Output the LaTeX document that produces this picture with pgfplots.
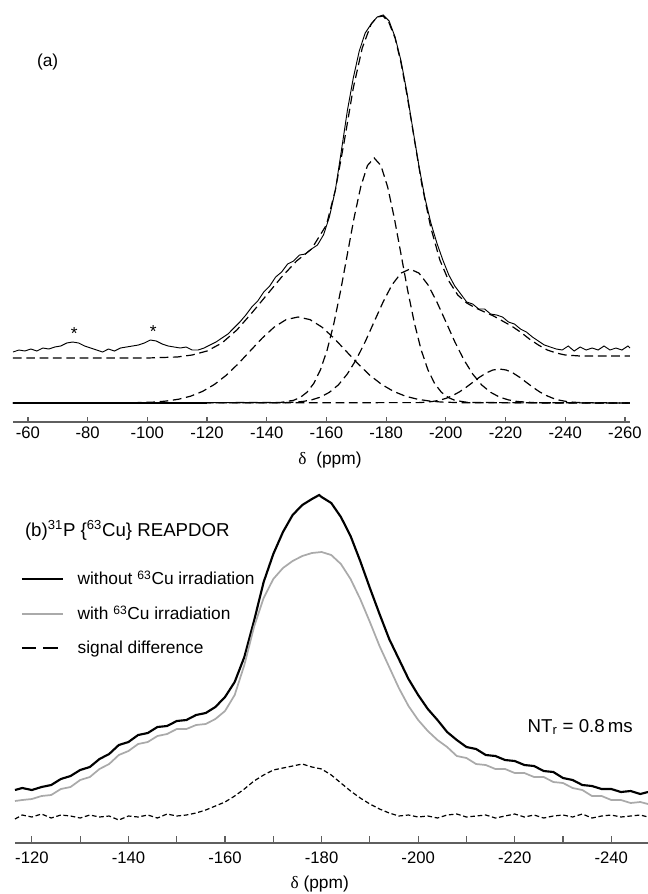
\documentclass[border=0pt]{standalone}
\usepackage{fontspec}
\setmainfont{Liberation Sans}
\newfontfamily\greekserif{Liberation Serif}
\usepackage{pgfplots}
\pgfplotsset{compat=1.18}

\definecolor{axisgray}{RGB}{95,95,95}
\definecolor{lightcurve}{RGB}{170,170,170}

\pgfplotsset{
  nmrframe/.style={
    scale only axis, clip=false,
    x dir=reverse,
    axis x line*=bottom, axis y line=none,
    axis line style={axisgray, line width=1.1pt},
    tick style={axisgray, line width=0.9pt},
    tick align=inside,
    /pgf/number format/assume math mode=true,
    ticklabel style={font=\fontsize{12.5}{14}\selectfont},
  },
}

\begin{document}
\begin{tikzpicture}
\useasboundingbox (0,0) rectangle (486pt,-670.5pt);

% ---------- (a) ----------
\begin{axis}[nmrframe,
  at={(9.75pt,-316.5pt)}, anchor=south west,
  width=462.75pt, height=316.5pt,
  xmin=-261.7, xmax=-55, ymin=-19, ymax=403,
  xtick={-260,-240,...,-60},
  major tick length=3.75pt,
]
% experimental spectrum
\addplot[black, line width=0.7pt] coordinates {
(-55,51) (-57,53) (-59,52) (-61,54) (-63,52) (-65,55) (-67,54) (-69,56) (-71,57) (-73,60)
(-75,61) (-77,60) (-79,57) (-81,55) (-83,53) (-85,51) (-87,54) (-89,52) (-91,55) (-93,56)
(-95,57) (-97,58) (-99,60) (-101,63) (-103,62) (-105,59) (-107,57) (-109,56) (-111,55) (-113,56)
(-115,53) (-117,53) (-119,55) (-121,58) (-123,61) (-125,65) (-127,69) (-129,75) (-131,81) (-133,88)
(-135,96) (-137,102) (-139,111) (-141,117) (-143,126) (-145,131) (-147,139) (-149,142) (-151,148) (-153,149)
(-155,154) (-157,158) (-159,168) (-161,186) (-163,213) (-165,252) (-167,292) (-169,325) (-171,352) (-173,370)
(-175,379) (-177,386) (-179,388) (-181,382) (-183,366) (-185,342) (-187,310) (-189,273) (-191,237) (-193,205)
(-195,180) (-197,160) (-199,143) (-201,128) (-203,117) (-205,109) (-207,101) (-209,99) (-211,94) (-213,94)
(-215,89) (-217,88) (-219,86) (-221,81) (-223,79) (-225,74) (-227,71) (-229,66) (-231,62) (-233,58)
(-235,56) (-237,54) (-239,53) (-241,57) (-243,52) (-245,56) (-247,53) (-249,55) (-251,53) (-253,57)
(-255,53) (-257,55) (-259,53) (-261,57) (-261.7,55)
};
% total fit
\addplot[black, line width=0.9pt, dash pattern=on 6.5pt off 3.5pt] coordinates {
(-55,45) (-100,45) (-110,46) (-115,48) (-120,52) (-125,60) (-130,73) (-135,90) (-140,108) (-145,126)
(-150,142) (-155,154) (-160,178) (-163,213) (-166,262) (-169,315) (-172,355) (-175,379) (-177,386) (-179,387)
(-181,380) (-183,365) (-185,340) (-187,308) (-189,272) (-192,218) (-195,175) (-198,143) (-201,122) (-204,108)
(-207,100) (-210,95) (-213,91) (-216,87) (-219,82) (-222,77) (-225,71) (-228,64) (-231,58) (-234,53)
(-237,50) (-240,48) (-245,47) (-261.7,47)
};
% baseline of the components
\addplot[black, line width=0.9pt] coordinates {(-55,0) (-120,0)};
% component 1
\addplot[black, line width=0.9pt, dash pattern=on 6.5pt off 3.5pt] coordinates {
(-55,0) (-94.5,0.2) (-102.5,0.95) (-106.5,2.0) (-110.5,3.8) (-114.5,6.8) (-118.5,11.6) (-122.5,18.6)
(-126.5,27.9) (-130.5,39.4) (-134.5,52.2) (-138.5,64.9) (-142.5,75.9) (-146.5,83.4) (-150.5,86)
(-154.5,83.4) (-158.5,75.9) (-162.5,64.9) (-166.5,52.2) (-170.5,39.4) (-174.5,27.9) (-178.5,18.6)
(-182.5,11.6) (-186.5,6.8) (-190.5,3.8) (-194.5,2.0) (-198.5,0.95) (-206.5,0.2) (-261.7,0)
};
% component 2
\addplot[black, line width=0.9pt, dash pattern=on 6.5pt off 3.5pt, dash phase=3pt] coordinates {
(-55,0) (-144.5,0.5) (-149,2.7) (-151.25,5.6) (-153.5,10.8) (-155.75,19.5) (-158,33.2) (-160.25,53.0)
(-162.5,79.6) (-164.75,112.2) (-167,148.6) (-169.25,184.9) (-171.5,216.2) (-173.75,237.5) (-176,245)
(-178.25,237.5) (-180.5,216.2) (-182.75,184.9) (-185,148.6) (-187.25,112.2) (-189.5,79.6) (-191.75,53.0)
(-194,33.2) (-196.25,19.5) (-198.5,10.8) (-200.75,5.6) (-203,2.7) (-207.5,0.5) (-261.7,0)
};
% component 3
\addplot[black, line width=0.9pt, dash pattern=on 6.5pt off 3.5pt, dash phase=6pt] coordinates {
(-55,0) (-146,0.3) (-152,1.5) (-155,3.1) (-158,5.9) (-161,10.7) (-164,18.1) (-167,29.0)
(-170,43.5) (-173,61.3) (-176,81.3) (-179,101.1) (-182,118.3) (-185,129.9) (-188,134)
(-191,129.9) (-194,118.3) (-197,101.1) (-200,81.3) (-203,61.3) (-206,43.5) (-209,29.0)
(-212,18.1) (-215,10.7) (-218,5.9) (-221,3.1) (-224,1.5) (-230,0.3) (-261.7,0)
};
% component 4
\addplot[black, line width=0.9pt, dash pattern=on 6.5pt off 3.5pt, dash phase=8pt] coordinates {
(-55,0) (-191,0.4) (-193.25,0.8) (-195.5,1.5) (-197.75,2.7) (-200,4.6) (-202.25,7.4) (-204.5,11.0)
(-206.75,15.6) (-209,20.6) (-211.25,25.7) (-213.5,30.0) (-215.75,33.0) (-218,34)
(-220.25,33.0) (-222.5,30.0) (-224.75,25.7) (-227,20.6) (-229.25,15.6) (-231.5,11.0) (-233.75,7.4)
(-236,4.6) (-238.25,2.7) (-240.5,1.5) (-242.75,0.8) (-245,0.4) (-261.7,0)
};
\node[font=\fontsize{13}{15}\selectfont] at (axis cs:-66.6,341) {(a)};
\node[font=\fontsize{13}{15}\selectfont] at (axis cs:-75.5,69) {*};
\node[font=\fontsize{13}{15}\selectfont] at (axis cs:-102,71) {*};
\node[font=\fontsize{13}{15}\selectfont] at (axis cs:-161.2,-57) {{\greekserif δ}\ \ (ppm)};
\end{axis}

% ---------- (b) ----------
\begin{axis}[nmrframe,
  at={(11.25pt,-632.25pt)}, anchor=south west,
  width=474.75pt, height=279.75pt,
  xmin=-247.6, xmax=-116.5, ymin=-26, ymax=347,
  xtick={-240,-220,...,-120},
  minor xtick={-230,-210,...,-130},
  major tick length=5pt, minor tick length=5pt,
  xticklabel style={yshift=-3pt},
  legend style={at={(axis cs:-117.6,252)}, anchor=north west, draw=none, fill=none,
    font=\fontsize{13}{15}\selectfont, row sep=10pt, inner xsep=0pt},
  legend cell align=left,
  legend image code/.code={\draw[#1] (0pt,0pt) -- (31pt,0pt);},
]
\addplot[black, line width=1.6pt, forget plot] coordinates {
(-116.5,27) (-118,29) (-120,27) (-122,30) (-124,32) (-126,38) (-128,41) (-130,47) (-132,50) (-134,58)
(-136,63) (-138,72) (-140,75) (-142,82) (-144,84) (-146,90) (-148,91) (-150,96) (-152,97) (-154,102)
(-156,104) (-158,110) (-160,120) (-162,135) (-164,160) (-166,196) (-168,235) (-170,263) (-172,285) (-174,302)
(-176,312) (-178,318) (-179.5,322) (-180,320) (-182,314) (-184,300) (-186,281) (-188,256) (-190,229) (-192,203)
(-194,178) (-196,158) (-198,138) (-200,122) (-202,108) (-204,97) (-206,85) (-208,77) (-210,70) (-212,68)
(-214,62) (-216,61) (-218,57) (-220,56) (-222,52) (-224,51) (-226,46) (-228,45) (-230,39) (-232,37)
(-234,32) (-236,31) (-238,28) (-240,28) (-242,25) (-244,26) (-246,23) (-247.6,25)
};
\addplot[lightcurve, line width=1.3pt, forget plot] coordinates {
(-116.5,16) (-118,17) (-120,18) (-122,21) (-124,22) (-126,28) (-128,30) (-130,37) (-132,40) (-134,48)
(-136,53) (-138,62) (-140,66) (-142,73) (-144,75) (-146,81) (-148,83) (-150,88) (-152,88) (-154,92)
(-156,93) (-158,98) (-160,106) (-162,122) (-164,152) (-166,190) (-168,219) (-170,238) (-172,249) (-174,256)
(-176,261) (-178,264) (-180,265) (-182,262) (-184,253) (-186,238) (-188,218) (-190,195) (-192,171) (-194,150)
(-196,129) (-198,111) (-200,97) (-202,86) (-204,77) (-206,70) (-208,61) (-210,59) (-212,53) (-214,52)
(-216,48) (-218,48) (-220,44) (-222,44) (-224,40) (-226,40) (-228,35) (-230,34) (-232,29) (-234,27)
(-236,21) (-238,21) (-240,17) (-242,17) (-244,14) (-246,15) (-247.6,13)
};
\addplot[black, line width=0.9pt, dash pattern=on 3.5pt off 2pt, forget plot] coordinates {
(-116.5,-2) (-118,2) (-120,0) (-122,3) (-124,-1) (-126,2) (-128,1) (-130,-1) (-132,2) (-134,0)
(-136,1) (-138,-3) (-140,1) (-142,0) (-144,2) (-146,-1) (-148,3) (-150,1) (-152,2) (-154,4)
(-156,7) (-158,11) (-160,15) (-162,21) (-164,28) (-166,36) (-168,42) (-170,47) (-172,49) (-174,51)
(-176,53) (-178,50) (-180,48) (-182,42) (-184,34) (-186,26) (-188,19) (-190,13) (-192,8) (-194,4)
(-196,1) (-198,2) (-200,0) (-202,1) (-204,-1) (-206,2) (-208,3) (-210,0) (-212,1) (-214,2)
(-216,-1) (-218,1) (-220,3) (-222,0) (-224,2) (-226,-1) (-228,1) (-230,2) (-232,0) (-234,3)
(-236,-1) (-238,1) (-240,2) (-242,0) (-244,1) (-246,2) (-247.6,0)
};
\addlegendimage{black, line width=1.6pt}
\addlegendentry{\hspace*{8pt}without \textsuperscript{63}Cu irradiation}
\addlegendimage{lightcurve, line width=1.3pt}
\addlegendentry{\hspace*{8pt}with \textsuperscript{63}Cu irradiation}
\addlegendimage{black, line width=1.8pt, dash pattern=on 11pt off 5pt}
\addlegendentry{\hspace*{8pt}signal difference}
\node[anchor=west, font=\fontsize{14}{16}\selectfont] at (axis cs:-117.6,287)
  {(b)\textsuperscript{31}P \{\textsuperscript{63}Cu\} REAPDOR};
\node[anchor=west, font=\fontsize{14}{16}\selectfont] at (axis cs:-221.7,90)
  {NT\textsubscript{r} = 0.8\,ms};
\node[font=\fontsize{13}{15}\selectfont] at (axis cs:-179.6,-67) {{\greekserif δ} (ppm)};
\end{axis}
\end{tikzpicture}
\end{document}
